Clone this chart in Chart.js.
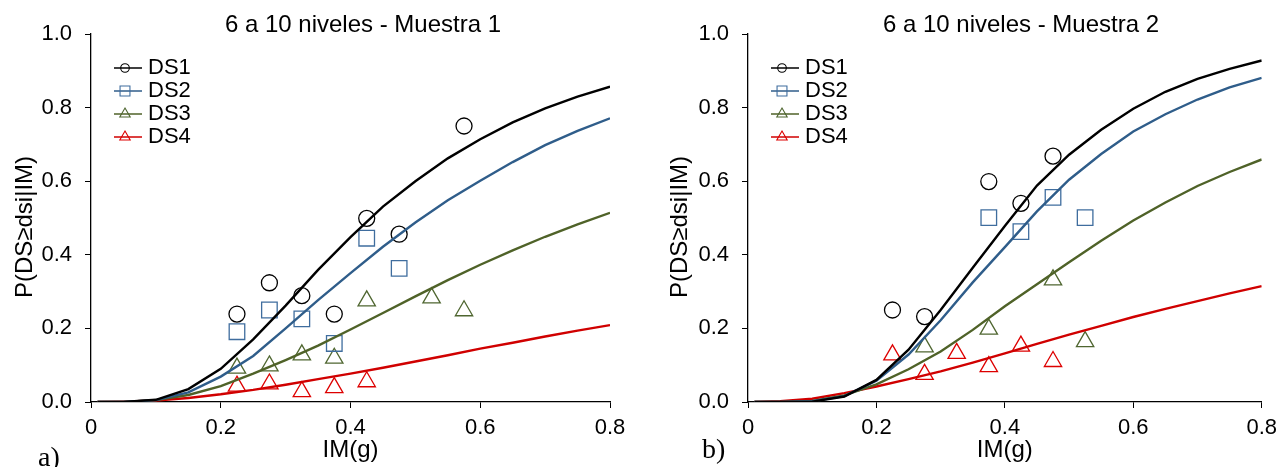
<!DOCTYPE html>
<html>
<head>
<meta charset="utf-8">
<title>Curvas de fragilidad 6 a 10 niveles</title>
<script src="https://cdn.jsdelivr.net/npm/chart.js@4.4.1/dist/chart.umd.min.js"></script>
<style>
  html, body { margin: 0; padding: 0; background: #fff; }
  #wrap { position: relative; width: 1284px; height: 467px; overflow: hidden; }
  .panel { position: absolute; top: 0; width: 642px; height: 467px; }
</style>
</head>
<body>
<div id="wrap">
  <div class="panel" style="left:0"><canvas id="chartA" width="642" height="467"></canvas></div>
  <div class="panel" style="left:642px"><canvas id="chartB" width="642" height="467"></canvas></div>
</div>
<script>
// IM(g) grid used for the fitted fragility curves
const imGrid = [0.01, 0.05, 0.10, 0.15, 0.20, 0.25, 0.30, 0.35, 0.40, 0.45, 0.50, 0.55, 0.60, 0.65, 0.70, 0.75, 0.80];

// Muestra 1 - fitted curves
const fitA_DS1 = [0.000, 0.000, 0.006, 0.035, 0.090, 0.170, 0.262, 0.359, 0.448, 0.531, 0.600, 0.662, 0.714, 0.760, 0.798, 0.830, 0.857];
const fitA_DS2 = [0.000, 0.000, 0.005, 0.026, 0.069, 0.125, 0.200, 0.277, 0.350, 0.422, 0.488, 0.548, 0.601, 0.652, 0.698, 0.737, 0.771];
const fitA_DS3 = [0.000, 0.000, 0.005, 0.019, 0.043, 0.077, 0.114, 0.153, 0.197, 0.242, 0.287, 0.331, 0.373, 0.412, 0.449, 0.483, 0.514];
const fitA_DS4 = [0.000, 0.001, 0.004, 0.011, 0.021, 0.033, 0.047, 0.062, 0.077, 0.093, 0.110, 0.127, 0.145, 0.161, 0.178, 0.194, 0.209];

// Muestra 1 - observed fractions
const obsA_DS1_im = [0.225, 0.275, 0.325, 0.375, 0.425, 0.475, 0.575];
const obsA_DS1_p  = [0.239, 0.324, 0.289, 0.239, 0.499, 0.456, 0.750];
const obsA_DS2_im = [0.225, 0.275, 0.325, 0.375, 0.425, 0.475];
const obsA_DS2_p  = [0.191, 0.250, 0.226, 0.159, 0.445, 0.363];
const obsA_DS3_im = [0.225, 0.275, 0.325, 0.375, 0.425, 0.525, 0.575];
const obsA_DS3_p  = [0.092, 0.098, 0.128, 0.119, 0.275, 0.283, 0.248];
const obsA_DS4_im = [0.225, 0.275, 0.325, 0.375, 0.425];
const obsA_DS4_p  = [0.043, 0.049, 0.028, 0.039, 0.055];

// Muestra 2 - fitted curves
const fitB_DS1 = [0.000, 0.000, 0.001, 0.015, 0.060, 0.142, 0.250, 0.365, 0.478, 0.588, 0.672, 0.740, 0.797, 0.843, 0.878, 0.905, 0.928];
const fitB_DS2 = [0.000, 0.000, 0.002, 0.016, 0.058, 0.129, 0.222, 0.325, 0.421, 0.518, 0.604, 0.674, 0.735, 0.782, 0.822, 0.855, 0.881];
const fitB_DS3 = [0.000, 0.000, 0.003, 0.018, 0.048, 0.089, 0.137, 0.196, 0.260, 0.320, 0.380, 0.438, 0.493, 0.542, 0.587, 0.625, 0.659];
const fitB_DS4 = [0.000, 0.002, 0.009, 0.024, 0.042, 0.062, 0.083, 0.107, 0.132, 0.158, 0.183, 0.207, 0.231, 0.253, 0.274, 0.295, 0.315];

// Muestra 2 - observed fractions
const obsB_DS1_im = [0.225, 0.275, 0.375, 0.425, 0.475];
const obsB_DS1_p  = [0.250, 0.232, 0.599, 0.540, 0.668];
const obsB_DS2_im = [0.375, 0.425, 0.475, 0.525];
const obsB_DS2_p  = [0.501, 0.463, 0.556, 0.501];
const obsB_DS3_im = [0.275, 0.375, 0.475, 0.525];
const obsB_DS3_p  = [0.150, 0.198, 0.332, 0.164];
const obsB_DS4_im = [0.225, 0.275, 0.325, 0.375, 0.425, 0.475];
const obsB_DS4_p  = [0.128, 0.075, 0.132, 0.096, 0.152, 0.110];

const dsLabels = ['DS1', 'DS2', 'DS3', 'DS4'];
const xAxisTitle = 'IM(g)';
const yAxisTitle = 'P(DS\u2265dsi|IM)';

const SANS = '"Liberation Sans", Arial, sans-serif';
const SERIF = '"Liberation Serif", "Times New Roman", serif';

// line colour, marker colour, marker shape per damage state
const dsStyle = [
    { line: '#000000', mark: '#000000', shape: 'circle',   r: 8,  lr: 4.3 },
    { line: '#2f5d8a', mark: '#3f6d9e', shape: 'rect',     r: 11, lr: 7 },
    { line: '#4f6228', mark: '#4f6630', shape: 'triangle', r: 10, lr: 6 },
    { line: '#d00000', mark: '#dd0000', shape: 'triangle', r: 10, lr: 6 }
];

Chart.defaults.font.family = SANS;
Chart.defaults.animation = false;

function buildDatasets(fits, obsX, obsY) {
    const sets = [];
    fits.forEach((ys, i) => {
        const st = dsStyle[i];
        sets.push({
            label: dsLabels[i],
            data: imGrid.map((x, k) => ({ x: x, y: ys[k] })),
            showLine: true,
            borderColor: st.line,
            borderWidth: 2.4,
            pointRadius: 0,
            tension: 0,
            fill: false,
            inLegend: true,
            legendStyle: st
        });
    });
    obsX.forEach((xs, i) => {
        const st = dsStyle[i];
        sets.push({
            label: dsLabels[i] + ' obs',
            data: xs.map((x, k) => ({ x: x, y: obsY[i][k] })),
            showLine: false,
            pointStyle: st.shape,
            pointRadius: st.r,
            pointBorderWidth: 1.3,
            pointBorderColor: st.mark,
            pointBackgroundColor: 'rgba(0,0,0,0)',
            clip: false
        });
    });
    return sets;
}

// titles, axis titles, panel tag and the in-plot legend
const panelDecor = {
    id: 'panelDecor',
    afterDraw(chart, args, opts) {
        const ctx = chart.ctx;
        const area = chart.chartArea;
        ctx.save();
        ctx.fillStyle = '#000';

        ctx.font = '24px ' + SANS;
        ctx.textAlign = 'center';
        ctx.textBaseline = 'alphabetic';
        ctx.fillText(opts.title, opts.titleX, 32);
        ctx.fillText(xAxisTitle, (area.left + area.right) / 2, 457);

        ctx.save();
        ctx.translate(opts.yTitleX, 227);
        ctx.rotate(-Math.PI / 2);
        ctx.textBaseline = 'middle';
        ctx.fillText(yAxisTitle, 0, 0);
        ctx.restore();

        ctx.font = '28px ' + SERIF;
        ctx.textAlign = 'left';
        ctx.fillText(opts.tag, opts.tagX, opts.tagY);

        // legend entries: line segment + marker + label
        ctx.font = '22px ' + SANS;
        ctx.textBaseline = 'middle';
        chart.data.datasets.filter(d => d.inLegend).forEach((d, i) => {
            const y = 68 + i * 23;
            const st = d.legendStyle;
            ctx.strokeStyle = d.borderColor;
            ctx.lineWidth = 1.5;
            ctx.beginPath();
            ctx.moveTo(area.left + 23, y);
            ctx.lineTo(area.left + 51, y);
            ctx.stroke();
            ctx.strokeStyle = st.mark;
            ctx.fillStyle = 'rgba(0,0,0,0)';
            ctx.lineWidth = 1.1;
            Chart.helpers.drawPoint(ctx, { pointStyle: st.shape, radius: st.lr, borderWidth: 1.1, rotation: 0 }, area.left + 34, y);
            ctx.fillStyle = '#000';
            ctx.fillText(d.label, area.left + 57, y);
        });
        ctx.restore();
    }
};

function axisOptions(yWidth) {
    const tickFont = { family: SANS, size: 22, lineHeight: 1.2 };
    return {
        x: {
            type: 'linear',
            min: 0,
            max: 0.8,
            ticks: {
                stepSize: 0.2,
                color: '#000',
                font: tickFont,
                padding: 7,
                maxRotation: 0,
                autoSkip: false,
                callback: v => (v === 0 ? '0' : v.toFixed(1))
            },
            grid: { drawOnChartArea: false, drawTicks: true, tickLength: 6, color: '#000', lineWidth: 1 },
            border: { color: '#000', width: 1.3 },
            afterFit: s => { s.height = 65; }
        },
        y: {
            type: 'linear',
            min: 0,
            max: 1,
            ticks: {
                stepSize: 0.2,
                color: '#000',
                font: tickFont,
                padding: 13,
                callback: v => v.toFixed(1)
            },
            grid: { drawOnChartArea: false, drawTicks: true, tickLength: 6, color: '#000', lineWidth: 1 },
            border: { color: '#000', width: 1.3 },
            afterFit: s => { s.width = yWidth; }
        }
    };
}

function buildPanel(canvasId, datasets, yWidth, padRight, decor) {
    return new Chart(document.getElementById(canvasId), {
        type: 'scatter',
        data: { datasets: datasets },
        options: {
            responsive: false,
            layout: { padding: { left: 0, top: 34, right: padRight, bottom: 0 } },
            scales: axisOptions(yWidth),
            plugins: {
                legend: { display: false },
                title: { display: false },
                tooltip: { enabled: false },
                panelDecor: decor
            }
        },
        plugins: [panelDecor]
    });
}

buildPanel('chartA',
    buildDatasets(
        [fitA_DS1, fitA_DS2, fitA_DS3, fitA_DS4],
        [obsA_DS1_im, obsA_DS2_im, obsA_DS3_im, obsA_DS4_im],
        [obsA_DS1_p, obsA_DS2_p, obsA_DS3_p, obsA_DS4_p]),
    91, 32,
    { title: '6 a 10 niveles - Muestra 1', titleX: 363, yTitleX: 25, tag: 'a)', tagX: 38, tagY: 466 });

buildPanel('chartB',
    buildDatasets(
        [fitB_DS1, fitB_DS2, fitB_DS3, fitB_DS4],
        [obsB_DS1_im, obsB_DS2_im, obsB_DS3_im, obsB_DS4_im],
        [obsB_DS1_p, obsB_DS2_p, obsB_DS3_p, obsB_DS4_p]),
    106, 18,
    { title: '6 a 10 niveles - Muestra 2', titleX: 379, yTitleX: 38, tag: 'b)', tagX: 60, tagY: 458 });
</script>
</body>
</html>
